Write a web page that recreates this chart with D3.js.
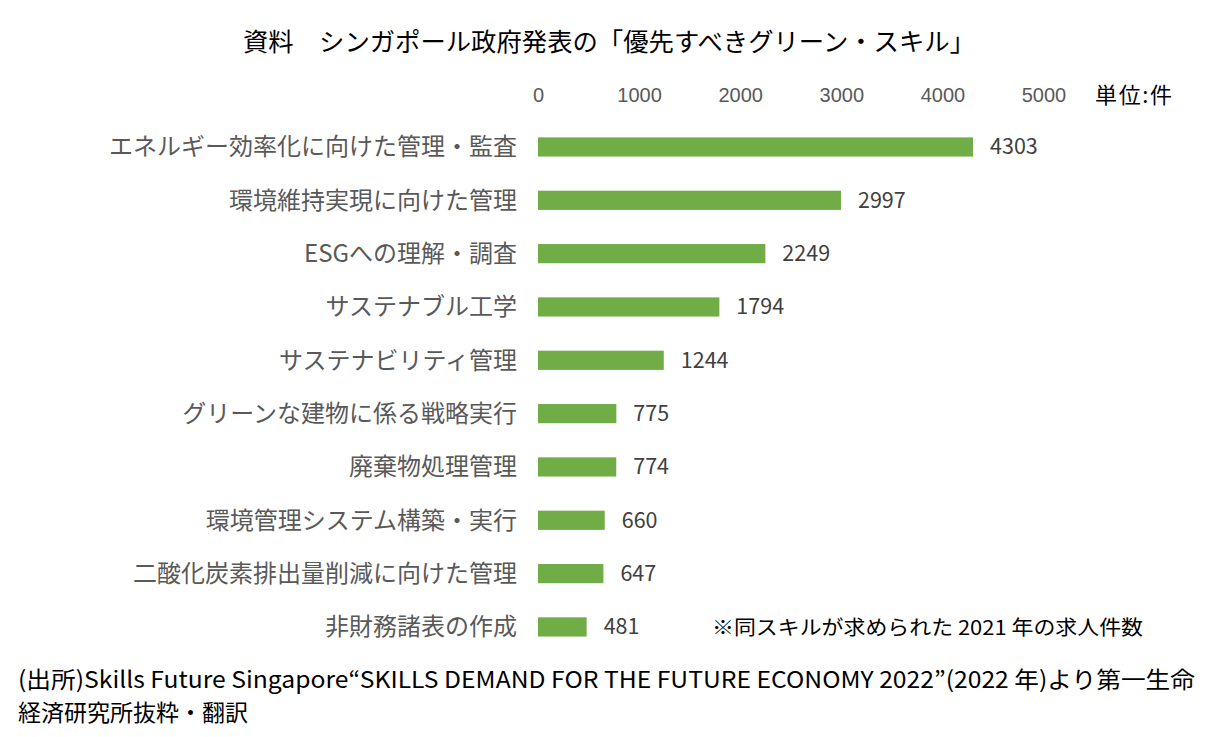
<!DOCTYPE html>
<html>
<head>
<meta charset="utf-8">
<script src="https://cdn.jsdelivr.net/npm/d3@7"></script>
<style>
  body { margin: 0; background: #fff; }
  svg { font-family: "Noto Sans CJK JP", "Noto Sans", sans-serif; }
</style>
</head>
<body>
<svg id="chart" width="1224" height="737"></svg>
<script>
  const skills = [
    "エネルギー効率化に向けた管理・監査",
    "環境維持実現に向けた管理",
    "ESGへの理解・調査",
    "サステナブル工学",
    "サステナビリティ管理",
    "グリーンな建物に係る戦略実行",
    "廃棄物処理管理",
    "環境管理システム構築・実行",
    "二酸化炭素排出量削減に向けた管理",
    "非財務諸表の作成",
  ];
  const jobs = [4303, 2997, 2249, 1794, 1244, 775, 774, 660, 647, 481];
  const ticks = [0, 1000, 2000, 3000, 4000, 5000];

  const title = "資料　シンガポール政府発表の「優先すべきグリーン・スキル」";
  const unit = "単位:件";
  const note = "※同スキルが求められた 2021 年の求人件数";
  const source = [
    "(出所)Skills Future Singapore“SKILLS DEMAND FOR THE FUTURE ECONOMY 2022”(2022 年)より第一生命",
    "経済研究所抜粋・翻訳",
  ];

  const svg = d3.select("#chart");

  const x = d3.scaleLinear().domain([0, 5000]).range([538, 1043.5]);
  const y = d3.scaleBand().domain(skills).range([120.3, 653.6]).paddingInner(0.64).paddingOuter(0.32);

  svg.append("text")
    .attr("x", 243).attr("y", 51)
    .attr("font-size", 25)
    .attr("textLength", 732)
    .attr("lengthAdjust", "spacingAndGlyphs")
    .attr("fill", "#000")
    .text(title);

  // top axis, labels only
  const axis = svg.append("g")
    .attr("transform", "translate(0,95)")
    .call(d3.axisTop(x).tickValues(ticks).tickFormat(d3.format("d")).tickSize(0).tickPadding(0));
  axis.select(".domain").remove();
  axis.selectAll("text")
    .attr("font-size", 20)
    .attr("font-family", "inherit")
    .attr("fill", "#595959")
    .attr("dy", "0.35em");

  svg.append("text")
    .attr("x", 1095).attr("y", 95).attr("dy", "0.35em")
    .attr("font-size", 22)
    .attr("textLength", 77)
    .attr("fill", "#000")
    .text(unit);

  svg.append("g")
    .selectAll("text")
    .data(skills)
    .join("text")
    .attr("x", 517)
    .attr("y", (d) => y(d) + y.bandwidth() / 2)
    .attr("dy", "0.35em")
    .attr("text-anchor", "end")
    .attr("font-size", 24)
    .attr("fill", "#595959")
    .text((d) => d);

  svg.append("g")
    .selectAll("rect")
    .data(jobs)
    .join("rect")
    .attr("x", x(0))
    .attr("y", (d, i) => y(skills[i]))
    .attr("width", (d) => x(d) - x(0))
    .attr("height", y.bandwidth())
    .attr("fill", "#70ad47");

  svg.append("g")
    .selectAll("text")
    .data(jobs)
    .join("text")
    .attr("x", (d) => x(d) + 17)
    .attr("y", (d, i) => y(skills[i]) + y.bandwidth() / 2)
    .attr("dy", "0.35em")
    .attr("font-size", 21.5)
    .attr("fill", "#404040")
    .text((d) => d);

  svg.append("text")
    .attr("x", 712).attr("y", 628).attr("dy", "0.35em")
    .attr("font-size", 20)
    .attr("textLength", 431)
    .attr("lengthAdjust", "spacingAndGlyphs")
    .attr("fill", "#000")
    .text(note);

  svg.append("g")
    .selectAll("text")
    .data(source)
    .join("text")
    .attr("x", 18)
    .attr("y", (d, i) => 680 + i * 33)
    .attr("dy", "0.35em")
    .attr("font-size", 23)
    .attr("textLength", (d, i) => (i === 0 ? 1177 : null))
    .attr("lengthAdjust", "spacingAndGlyphs")
    .attr("fill", "#000")
    .text((d) => d);
</script>
</body>
</html>
